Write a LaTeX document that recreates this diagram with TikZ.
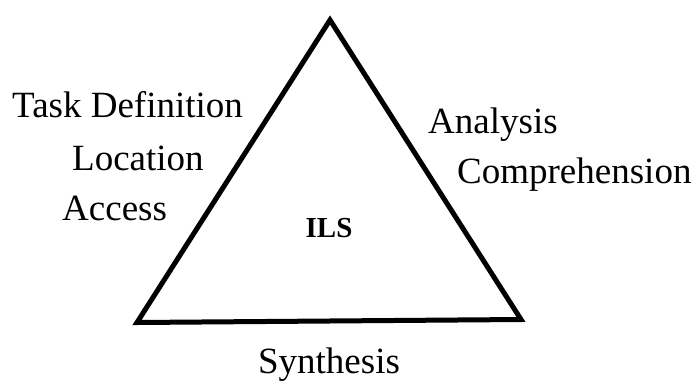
\documentclass[tikz,border=0pt]{standalone}
\usepackage{fontspec}
\setmainfont{Liberation Serif}
\begin{document}
\begin{tikzpicture}[x=1pt,y=-1pt,
  lbl/.style={font=\fontsize{37}{40}\selectfont, inner sep=0pt, anchor=base west},
  core/.style={font=\fontsize{29}{32}\selectfont\bfseries, inner sep=0pt, anchor=base},
  edge/.style={line width=5pt, line join=miter}]
  \useasboundingbox (0,0) rectangle (692,380);
  % corners of the triangle
  \coordinate (top) at (330,20);
  \coordinate (bl) at (137,322.5);
  \coordinate (br) at (521,319.5);
  \draw[edge] (top) -- (bl) -- (br) -- cycle;
  % left side labels
  \node[lbl] (task) at (12,117) {Task Definition};
  \node[lbl] (loc) at (72,170) {Location};
  \node[lbl] (acc) at (62,220) {Access};
  % right side labels
  \node[lbl] (ana) at (428,133) {Analysis};
  \node[lbl] (comp) at (457,183) {Comprehension};
  % centre and base
  \node[core] (ils) at (329,237) {ILS};
  \node[lbl, anchor=base] (syn) at (329,373) {Synthesis};
\end{tikzpicture}
\end{document}
